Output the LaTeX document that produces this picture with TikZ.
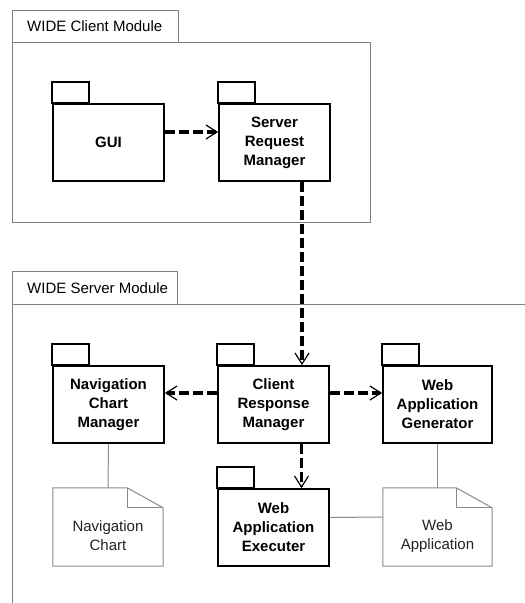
\documentclass[tikz,border=0pt]{standalone}
\usepackage{fontspec}
\setmainfont{Liberation Sans}
\usetikzlibrary{arrows.meta,calc}
\definecolor{framegray}{HTML}{808080}
\definecolor{notegray}{HTML}{8A8A8A}
\definecolor{notetext}{HTML}{222222}
\newcommand\dgfs{\fontsize{15}{18.9}\selectfont}
\begin{document}
\begin{tikzpicture}[x=1pt,y=-1pt,
  frame/.style={draw=framegray,line width=1pt},
  framelbl/.style={anchor=west,font=\dgfs,text=black,inner sep=0pt},
  pkg/.style={draw=black,line width=1.9pt,minimum width=111pt,minimum height=77pt,inner sep=0pt,align=center,font=\dgfs\bfseries},
  pkgtab/.style={draw=black,line width=1.9pt},
  notebox/.style={minimum width=110pt,minimum height=78pt,inner sep=0pt},
  noteline/.style={draw=notegray,line width=1pt},
  notetxt/.style={align=center,font=\dgfs,text=notetext,inner sep=0pt},
  dep/.style={draw=black,line width=3.2pt,dash pattern=on 10pt off 4pt,
    -{Straight Barb[length=11pt,width=14pt,line width=1.2pt]}},
  assoc/.style={draw=notegray,line width=1pt}]
\useasboundingbox (0,0) rectangle (525,603);

% Client module frame
\draw[frame] (12,10) rectangle (178,42);
\node[framelbl] (clientlbl) at (27,26.5) {WIDE Client Module};
\draw[frame] (12,42) rectangle (370,222);

% Server module frame
\draw[frame] (12,271) rectangle (177,304);
\node[framelbl] (serverlbl) at (27,288) {WIDE Server Module};
\draw[frame] (12,603) -- (12,304) -- (525,304);

% Packages
\node[pkg] (gui) at (108.5,142.5) {GUI};
\node[pkg] (srm) at (274.5,142.5) {Server\\Request\\Manager};
\node[pkg] (ncm) at (108.5,404.5) {Navigation\\Chart\\Manager};
\node[pkg] (crm) at (273.5,404.5) {Client\\Response\\Manager};
\node[pkg,minimum width=109pt] (wag) at (437.5,404.5) {Web\\Application\\Generator};
\node[pkg] (wae) at (273.5,527.5) {Web\\Application\\Executer};
\foreach \n in {gui,srm,ncm,crm,wag,wae}{
  \draw[pkgtab] (\n.north west) rectangle ++(37,-21.5);
}

% Notes
\node[notebox] (nc) at (108,527) {};
\node[notebox,minimum width=109pt] (wa) at (437.5,527) {};
\foreach \n in {nc,wa}{
  \draw[noteline] (\n.north west) -- ($(\n.north east)+(-36,0)$) -- ($(\n.north east)+(0,20)$) -- (\n.south east) -- (\n.south west) -- cycle;
  \draw[noteline] ($(\n.north east)+(-36,0)$) -- ($(\n.north east)+(-36,20)$) -- ($(\n.north east)+(0,20)$);
}
\node[notetxt] (nctxt) at (108,536) {Navigation\\Chart};
\node[notetxt] (watxt) at (437.5,536) {Web\\Application};

% Associations
\draw[assoc] (ncm.south) -- (nc.north);
\draw[assoc] (wag.south) -- (wa.north);
\draw[assoc] ([yshift=10pt]wae.east) -- ([yshift=10pt]wa.west);

% Dependencies
\draw[dep] ([yshift=10.5pt]gui.east) -- ([yshift=10.5pt]srm.west);
\draw[dep] ([xshift=27.5pt]srm.south) -- ([xshift=28.5pt]crm.north);
\draw[dep] ([yshift=11.5pt]crm.west) -- ([yshift=11.5pt]ncm.east);
\draw[dep] ([yshift=11.5pt]crm.east) -- ([yshift=11.5pt]wag.west);
\draw[dep] ([xshift=28pt]crm.south) -- ([xshift=28pt]wae.north);
\end{tikzpicture}
\end{document}
